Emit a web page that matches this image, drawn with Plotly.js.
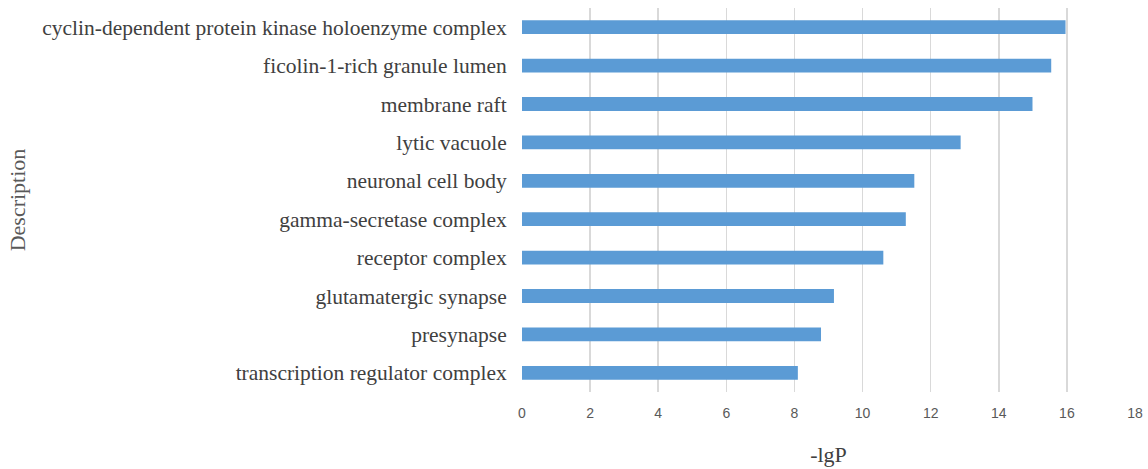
<!DOCTYPE html>
<html>
<head>
<meta charset="utf-8">
<script src="https://cdn.plot.ly/plotly-3.0.1.min.js"></script>
<style>html,body{margin:0;padding:0;background:#fff;}#chart{width:1148px;height:469px;}</style>
</head>
<body>
<div id="chart"></div>
<script>
const categories = [
  "cyclin-dependent protein kinase holoenzyme complex",
  "ficolin-1-rich granule lumen",
  "membrane raft",
  "lytic vacuole",
  "neuronal cell body",
  "gamma-secretase complex",
  "receptor complex",
  "glutamatergic synapse",
  "presynapse",
  "transcription regulator complex"
];
const values = [15.96, 15.54, 14.99, 12.88, 11.52, 11.27, 10.61, 9.16, 8.78, 8.10];
const xTicks = [0, 2, 4, 6, 8, 10, 12, 14, 16, 18];

const trace = {
  type: 'bar',
  orientation: 'h',
  x: values,
  y: categories,
  width: 0.36,
  marker: {color: '#5b9bd5'},
  hoverinfo: 'x+y'
};

const layout = {
  width: 1148,
  height: 469,
  paper_bgcolor: '#ffffff',
  plot_bgcolor: '#ffffff',
  margin: {l: 522, r: 13, t: 8, b: 77},
  showlegend: false,
  xaxis: {
    range: [0, 18],
    tickvals: xTicks,
    ticktext: xTicks.map(String),
    showgrid: true,
    gridcolor: '#d9d9d9',
    gridwidth: 1.5,
    zeroline: false,
    showline: false,
    ticks: 'outside',
    ticklen: 8,
    tickcolor: 'rgba(0,0,0,0)',
    tickfont: {family: 'Liberation Sans, Arial, sans-serif', size: 14, color: '#595959'},
    title: {text: '-lgP', standoff: 26, font: {family: 'Liberation Serif, Times New Roman, serif', size: 22, color: '#404040'}}
  },
  yaxis: {
    type: 'category',
    categoryorder: 'array',
    categoryarray: categories.slice().reverse(),
    autorange: false,
    range: [-0.5, categories.length - 0.5],
    showgrid: false,
    zeroline: false,
    showline: false,
    ticks: 'outside',
    ticklen: 10,
    tickcolor: 'rgba(0,0,0,0)',
    tickfont: {family: 'Liberation Serif, Times New Roman, serif', size: 21.5, color: '#404040'},
    title: {text: 'Description', standoff: 10, font: {family: 'Liberation Serif, Times New Roman, serif', size: 22, color: '#595959'}}
  }
};

Plotly.newPlot('chart', [trace], layout, {displayModeBar: false, staticPlot: true});
</script>
</body>
</html>
